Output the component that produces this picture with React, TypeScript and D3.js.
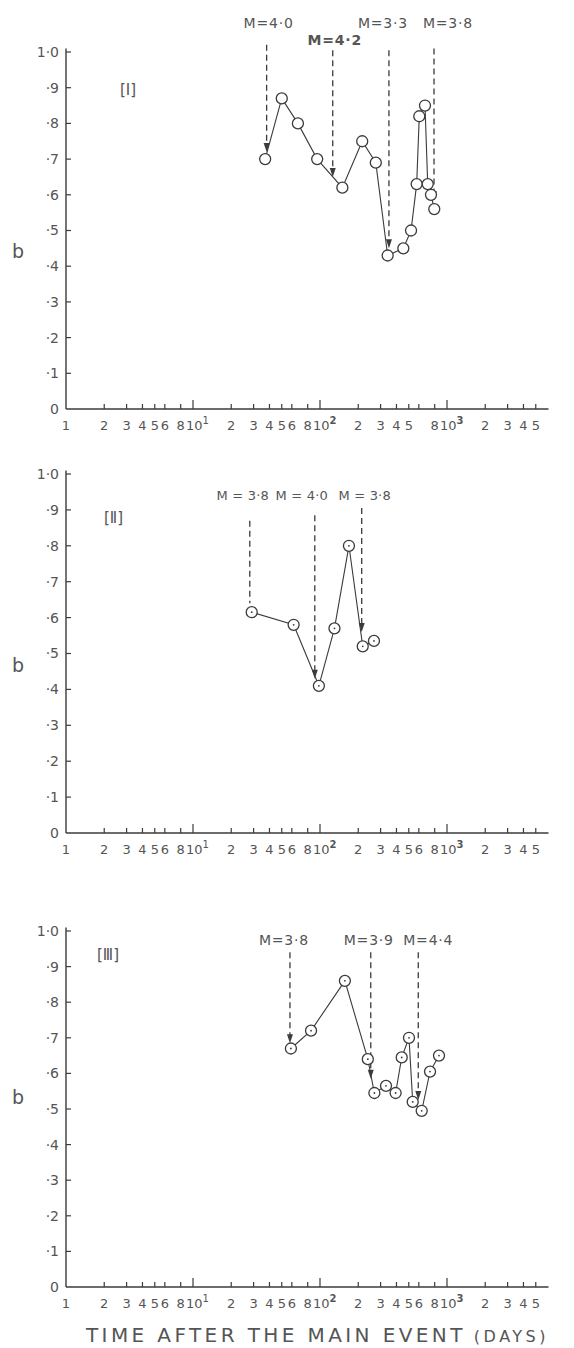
import React from 'react';
import * as d3 from 'd3';

// ---- data (days after main event, b-value) ----
const daysI = [37, 50, 67, 95, 150, 215, 275, 341, 453, 521, 577, 605, 671, 705, 748, 794];
const bI = [0.70, 0.87, 0.80, 0.70, 0.62, 0.75, 0.69, 0.43, 0.45, 0.50, 0.63, 0.82, 0.85, 0.63, 0.60, 0.56];
const eventDaysI = [38, 126, 349, 790];
const eventMagI = ['M=4·0', 'M=4·2', 'M=3·3', 'M=3·8'];
const eventTipI = [0.72, 0.65, 0.45, 0.585];

const daysII = [29, 62, 98, 130, 169, 217, 266];
const bII = [0.615, 0.58, 0.41, 0.57, 0.80, 0.52, 0.535];
const eventDaysII = [28, 91, 213];
const eventMagII = ['M = 3·8', 'M = 4·0', 'M = 3·8'];
const eventTipII = [0.64, 0.43, 0.56];

const daysIII = [59, 85, 157, 238, 268, 331, 394, 440, 502, 537, 632, 735, 865];
const bIII = [0.67, 0.72, 0.86, 0.64, 0.545, 0.565, 0.545, 0.645, 0.70, 0.52, 0.495, 0.605, 0.65];
const eventDaysIII = [58, 251, 594];
const eventMagIII = ['M=3·8', 'M=3·9', 'M=4·4'];
const eventTipIII = [0.685, 0.585, 0.525];

const yTicks = [0, 0.1, 0.2, 0.3, 0.4, 0.5, 0.6, 0.7, 0.8, 0.9, 1.0];
const yTickLabels = ['0', '·1', '·2', '·3', '·4', '·5', '·6', '·7', '·8', '·9', '1·0'];
const minorTickMults = [2, 3, 4, 5, 6, 8];
const labelMultsI = [[2, 3, 4, 5, 6, 8], [2, 3, 4, 5, 6, 8], [2, 3, 4, 5, 8], [2, 3, 4, 5]];
const labelMultsII = [[2, 3, 4, 5, 6, 8], [2, 3, 4, 5, 6, 8], [2, 3, 4, 5, 6, 8], [2, 3, 4, 5]];
const panelNames = ['[I]', '[Ⅱ]', '[Ⅲ]'];

const W = 574;
const H = 1348;
const ink = '#3b3b3b';
const textInk = '#555';
const font = '"DejaVu Sans", sans-serif';

const x = d3.scaleLog().domain([1, 1000]).range([66, 447]);
const xEnd = 6300;

// per-panel layout: zero line, top of scale, label offsets etc.
const layout = [
  { zero: 409, top: 52, lineTop: [1.02, 1.005, 1.005, 1.01], labelDx: [2, 2, -6, 14], labelY: [28, 45, 28, 28], labelSize: 14, nameX: 120, nameY: 95, bY: 258, heads: [true, true, true, true] },
  { zero: 833, top: 474, lineTop: [0.87, 0.885, 0.905], labelDx: [-7, -13, 3], labelY: [500, 500, 500], labelSize: 13, nameX: 104, nameY: 523, bY: 672, heads: [false, true, true] },
  { zero: 1287, top: 931, lineTop: [0.94, 0.94, 0.94], labelDx: [-6, -2, 10], labelY: [945, 945, 945], labelSize: 14, nameX: 97, nameY: 960, bY: 1104, heads: [true, true, true] },
];

type PanelData = {
  days: number[]; b: number[]; evDays: number[]; evMag: string[]; evTip: number[]; labelMults: number[][];
};

const panelData: PanelData[] = [
  { days: daysI, b: bI, evDays: eventDaysI, evMag: eventMagI, evTip: eventTipI, labelMults: labelMultsI },
  { days: daysII, b: bII, evDays: eventDaysII, evMag: eventMagII, evTip: eventTipII, labelMults: labelMultsII },
  { days: daysIII, b: bIII, evDays: eventDaysIII, evMag: eventMagIII, evTip: eventTipIII, labelMults: labelMultsII },
];

function Panel({ d, i }: { d: PanelData; i: number }) {
  const L = layout[i];
  const y = d3.scaleLinear().domain([0, 1]).range([L.zero, L.top]);
  const pts = d.days.map((t, k) => [x(t), y(d.b[k])] as [number, number]);
  const line = d3.line();
  const x0 = x(1);

  const ticks: { v: number; major: boolean }[] = [];
  for (let dec = 0; dec < 4; dec++) {
    const base = Math.pow(10, dec);
    if (dec > 0) ticks.push({ v: base, major: true });
    const mults = dec === 3 ? [2, 3, 4, 5] : minorTickMults;
    mults.forEach((m) => ticks.push({ v: m * base, major: false }));
  }

  return (
    <g>
      {/* axes */}
      <line x1={x0} x2={x0} y1={y(0)} y2={y(1.01)} stroke={ink} strokeWidth={1.4} />
      <line x1={x0} x2={x(xEnd)} y1={y(0)} y2={y(0)} stroke={ink} strokeWidth={1.4} />
      {yTicks.map((v, k) => (
        <g key={'yt' + k}>
          {v > 0 && <line x1={x0} x2={x0 + 5} y1={y(v)} y2={y(v)} stroke={ink} strokeWidth={1.2} />}
          <text x={x0 - 7} y={y(v)} dy="0.35em" textAnchor="end" fontSize={14} fill={textInk} fontFamily={font}>
            {yTickLabels[k]}
          </text>
        </g>
      ))}
      {ticks.map((t, k) => (
        <line key={'xt' + k} x1={x(t.v)} x2={x(t.v)} y1={y(0)} y2={y(0) - (t.major ? 9 : 5)} stroke={ink} strokeWidth={1.2} />
      ))}
      <text x={x0} y={y(0) + 21} textAnchor="middle" fontSize={13} fill={textInk} fontFamily={font}>1</text>
      {d.labelMults.map((mults, dec) => (
        <g key={'dec' + dec}>
          {mults.map((m) => (
            <text key={m} x={x(m * Math.pow(10, dec))} y={y(0) + 21} textAnchor="middle" fontSize={13} fill={textInk} fontFamily={font}>
              {m}
            </text>
          ))}
          {dec < 3 && (
            <text x={x(Math.pow(10, dec + 1)) - 7} y={y(0) + 21} fontSize={13} fill={textInk} fontFamily={font}>
              10<tspan fontSize={10} dy={-6} fontWeight={dec > 0 ? 'bold' : 'normal'}>{dec + 1}</tspan>
            </text>
          )}
        </g>
      ))}
      <text x={18} y={L.bY} textAnchor="middle" fontSize={19} fill={textInk} fontFamily={font}>b</text>
      <text x={L.nameX} y={L.nameY} fontSize={15} fill={textInk} fontFamily={font}>{panelNames[i]}</text>

      {/* event markers */}
      {d.evDays.map((t, k) => {
        const ex = x(t);
        const tip = y(d.evTip[k]);
        return (
          <g key={'ev' + k}>
            <line x1={ex} x2={ex} y1={y(L.lineTop[k])} y2={L.heads[k] ? tip - 6 : tip} stroke={ink} strokeWidth={1.3} strokeDasharray="6,4" />
            {L.heads[k] && <path d={`M${ex - 3},${tip - 9}L${ex + 3},${tip - 9}L${ex},${tip}Z`} fill={ink} />}
            <text x={ex + L.labelDx[k]} y={L.labelY[k]} textAnchor="middle" fontSize={L.labelSize} letterSpacing={i === 1 ? 0.2 : 0.8} fill={textInk} fontFamily={font} fontWeight={i === 0 && k === 1 ? 'bold' : 'normal'}>
              {d.evMag[k]}
            </text>
          </g>
        );
      })}

      {/* data */}
      <path d={line(pts) || ''} fill="none" stroke={ink} strokeWidth={1.1} />
      {pts.map((p, k) => (
        <g key={'pt' + k}>
          <circle cx={p[0]} cy={p[1]} r={5.5} fill="#fff" stroke={ink} strokeWidth={1.3} />
          {i > 0 && <circle cx={p[0]} cy={p[1]} r={0.9} fill={ink} />}
        </g>
      ))}
    </g>
  );
}

export default function App() {
  return (
    <svg width={W} height={H} style={{ position: 'absolute', left: 0, top: 0, background: '#fff' }}>
      {panelData.map((d, i) => (
        <Panel key={i} d={d} i={i} />
      ))}
      <text x={86} y={1342} fontSize={20} letterSpacing={3.4} fill={textInk} fontFamily={font}>
        TIME AFTER THE MAIN EVENT
        <tspan fontSize={16} dx={8} letterSpacing={3.5}>(DAYS)</tspan>
      </text>
    </svg>
  );
}
